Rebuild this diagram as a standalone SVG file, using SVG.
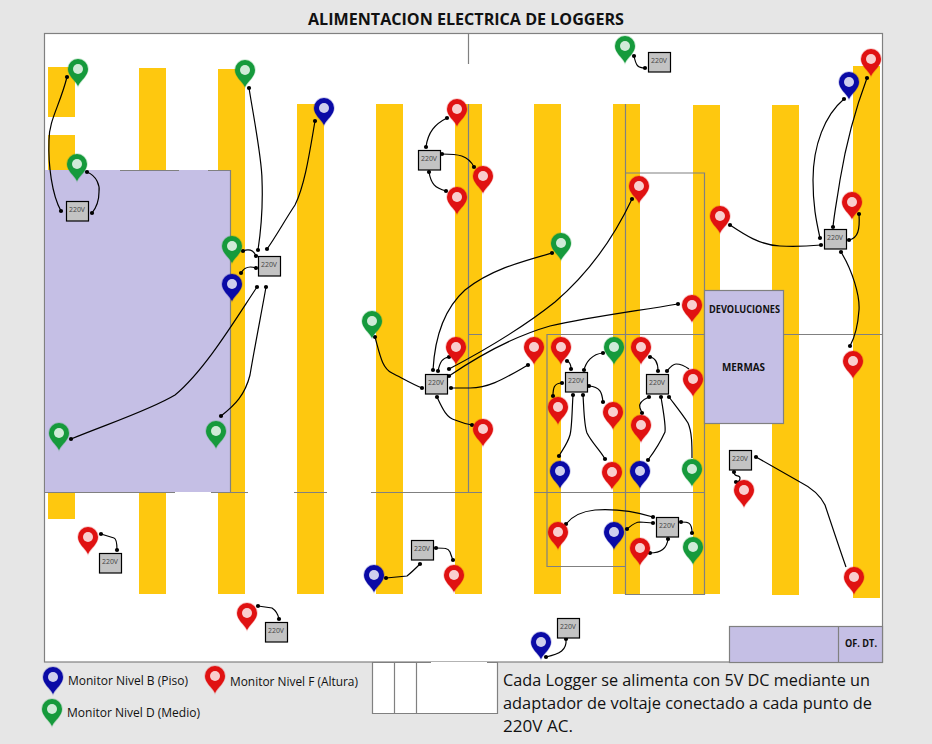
<svg xmlns="http://www.w3.org/2000/svg" width="932" height="744" viewBox="0 0 932 744">
<style>
.bar{fill:#fec80f}
.ln{stroke:#808080;stroke-width:1.2;fill:none}
.pur{fill:#c5bfe5}
.pb{fill:#c5bfe5;stroke:#808080;stroke-width:1.2}
.box rect{fill:#c3c3c3;stroke:#000;stroke-width:1.2}
.box text{font:8px "Open Sans",sans-serif;fill:#444;text-anchor:middle}
.c path{fill:none;stroke:#000;stroke-width:1.2;marker-start:url(#dot);marker-end:url(#dot)}
.c path.n{marker-end:none}
.t{font-family:"Open Sans","Liberation Sans",sans-serif;fill:#111}
.b{font-family:"Open Sans","Liberation Sans",sans-serif;font-weight:bold;fill:#111}
.red{color:#e01212}.grn{color:#169a3c}.blu{color:#0a0aa6}
</style>
<defs>
<marker id="dot" markerUnits="userSpaceOnUse" markerWidth="6" markerHeight="6" refX="3" refY="3" overflow="visible"><circle cx="3" cy="3" r="2.1" fill="#000"/></marker>
<g id="pin"><path d="M0,17C-3,11-10,7-10,0A10,10 0 1 1 10,0C10,7 3,11 0,17Z" fill="currentColor" stroke="currentColor" stroke-opacity=".25" stroke-width="1.5"/><circle r="5" fill="#fff" fill-opacity=".8"/></g>
</defs>
<rect width="932" height="744" fill="#e6e6e6"/>
<rect x="44.500" y="33.500" width="838" height="628.500" fill="#fff" stroke="#808080" stroke-width="1.2"/>
<g id="bars">
<rect class="bar" x="48" y="67" width="27" height="50"/>
<rect class="bar" x="48" y="135" width="27" height="384"/>
<rect class="bar" x="139" y="68" width="27" height="526"/>
<rect class="bar" x="218" y="69" width="27" height="525"/>
<rect class="bar" x="297" y="104" width="27" height="490"/>
<rect class="bar" x="376" y="104" width="27" height="490"/>
<rect class="bar" x="455" y="104" width="27" height="490"/>
<rect class="bar" x="534" y="104" width="27" height="490"/>
<rect class="bar" x="613" y="104" width="27" height="490"/>
<rect class="bar" x="693" y="105" width="27" height="489"/>
<rect class="bar" x="772" y="105" width="27" height="490"/>
<rect class="bar" x="853" y="66" width="27" height="532"/>
</g>
<g id="zones">
<rect class="pur" x="45" y="170" width="186" height="322"/>
<path class="ln" d="M120,170.500H179M208,170.500H230.500V492M44,492.500H175M211,492.500H248M294,492.500H327M371,492.500H482M534,492.500H704M468.500,34V64M468.500,104V492M468,334.500H482M547,334.500H704M783,334.500H882M547,334V566.500H625M625.500,104V594.500H704.500V173H626"/>
<rect class="pb" x="704.500" y="290.500" width="79" height="133"/>
<rect class="pb" x="729.500" y="626.500" width="153" height="36"/>
<path class="ln" d="M838.500,626V662"/>
<rect x="372.500" y="662" width="125" height="51.500" fill="#fff"/>
<path class="ln" d="M431,662.500H372.500V713.500H497.500V662.500H487M394.500,662V713M416.500,662V713"/>
<text class="b" x="744.500" y="313" font-size="10" text-anchor="middle" textLength="71" lengthAdjust="spacingAndGlyphs">DEVOLUCIONES</text>
<text class="b" x="743.500" y="371" font-size="10" text-anchor="middle" textLength="43" lengthAdjust="spacingAndGlyphs">MERMAS</text>
<text class="b" x="861" y="647" font-size="10.500" text-anchor="middle" textLength="32" lengthAdjust="spacingAndGlyphs">OF. DT.</text>
</g>
<g id="connectors" class="c">
<path d="M67,77C60,105 49,120 49,140C48,165 52,195 61,211"/>
<path d="M87,172C97,176 100,186 99,192C99,200 96,208 92,213"/>
<path d="M249,88C255,125 262,160 262,180C263,205 261,230 258,250"/>
<path d="M315,121C310,150 305,185 295,205C285,220 275,238 267,249"/>
<path d="M243,251C248,249 253,249 256,256"/>
<path d="M241,273C245,266 250,266 256,268"/>
<path d="M71,439C110,423 150,410 175,395C205,370 235,320 257,287"/>
<path d="M221,416C235,405 245,395 250,375C255,345 262,310 266,287"/>
<path d="M634,56C636,66 638,68 645,68"/>
<path d="M447,118C435,124 428,132 426,147"/>
<path d="M442,154C458,154 468,155 474,167"/>
<path d="M429,172C431,184 435,188 446,191"/>
<path d="M375,337C380,355 382,368 392,373C402,378 412,384 422,388"/>
<path d="M552,253C520,262 490,270 465,290C445,308 435,335 433,370"/>
<path d="M449,357C442,358 440,362 438,371"/>
<path d="M632,199C615,235 590,272 555,302C520,330 485,350 449,369"/>
<path d="M678,304C630,312 590,317 550,326C515,336 480,355 449,376"/>
<path d="M528,365C505,378 490,388 470,388L451,388"/>
<path d="M437,397C443,410 447,418 455,420C460,422 466,424 472,425"/>
<path d="M567,361C570,362 571,365 571,369"/>
<path d="M603,353C592,354 586,362 584,370"/>
<path d="M562,383C554,383 553,388 553,396"/>
<path d="M589,386C600,387 602,392 603,402"/>
<path d="M573,395C572,410 572,428 570,435C567,445 562,450 559,456"/>
<path d="M583,395C584,410 584,425 587,433C592,443 600,450 605,459"/>
<path d="M650,357C656,358 658,363 658,371"/>
<path class="n" d="M667,371C671,366 673,364 676,364C681,364 685,366 689,369"/>
<path d="M649,397C642,400 638,403 640,408L642,413"/>
<path d="M661,397C663,410 666,425 665,432C660,443 654,452 648,460"/>
<path class="n" d="M669,397C675,405 683,415 688,423C692,432 692,445 692,458"/>
<path d="M653,517C630,510 610,509 595,510C585,511 573,515 566,524"/>
<path d="M653,523L640,522C635,522 632,525 627,529"/>
<path d="M668,539C667,548 662,553 650,553"/>
<path d="M681,522C688,522 692,522 692,533"/>
<path d="M436,548C445,548 448,548 450,552C451,555 452,558 453,560"/>
<path d="M386,578L407,576C412,572 416,568 420,564"/>
<path d="M566,639C567,650 560,654 546,657"/>
<path d="M844,99C825,115 813,145 813,180C813,205 816,220 820,238"/>
<path d="M867,78C855,110 845,150 840,180C837,200 834,215 833,227"/>
<path d="M859,214C860,230 858,238 849,240"/>
<path d="M730,225C745,235 760,245 780,246C795,247 810,246 821,245"/>
<path d="M841,252C852,270 860,295 859,310C858,325 856,335 850,346"/>
<path d="M734,472C734,478 740,474 740,478C740,481 738,482 736,482"/>
<path class="n" d="M756,457L800,482C812,488 820,495 825,505C830,520 840,550 846,567"/>
<path d="M101,534L114,538C117,539 117,545 117,550"/>
<path d="M258,606L272,608C275,610 278,614 279,619"/>
</g>
<g id="outlets">
<g id="o1" class="box" transform="translate(66,201)"><rect x=".5" y=".5" width="22" height="19.500"/><text x="11" y="10.500" textLength="16" lengthAdjust="spacingAndGlyphs">220V</text></g>
<g id="o2" class="box" transform="translate(258,256)"><rect x=".5" y=".5" width="22" height="19.500"/><text x="11" y="10.500" textLength="16" lengthAdjust="spacingAndGlyphs">220V</text></g>
<g id="o3" class="box" transform="translate(648,52)"><rect x=".5" y=".5" width="22" height="19.500"/><text x="11" y="10.500" textLength="16" lengthAdjust="spacingAndGlyphs">220V</text></g>
<g id="o4" class="box" transform="translate(418,150)"><rect x=".5" y=".5" width="22" height="19.500"/><text x="11" y="10.500" textLength="16" lengthAdjust="spacingAndGlyphs">220V</text></g>
<g id="o5" class="box" transform="translate(425,374)"><rect x=".5" y=".5" width="22" height="19.500"/><text x="11" y="10.500" textLength="16" lengthAdjust="spacingAndGlyphs">220V</text></g>
<g id="o6" class="box" transform="translate(565,372)"><rect x=".5" y=".5" width="22" height="19.500"/><text x="11" y="10.500" textLength="16" lengthAdjust="spacingAndGlyphs">220V</text></g>
<g id="o7" class="box" transform="translate(646,374)"><rect x=".5" y=".5" width="22" height="19.500"/><text x="11" y="10.500" textLength="16" lengthAdjust="spacingAndGlyphs">220V</text></g>
<g id="o8" class="box" transform="translate(656,517)"><rect x=".5" y=".5" width="22" height="19.500"/><text x="11" y="10.500" textLength="16" lengthAdjust="spacingAndGlyphs">220V</text></g>
<g id="o9" class="box" transform="translate(411,540)"><rect x=".5" y=".5" width="22" height="19.500"/><text x="11" y="10.500" textLength="16" lengthAdjust="spacingAndGlyphs">220V</text></g>
<g id="o10" class="box" transform="translate(824,229)"><rect x=".5" y=".5" width="22" height="19.500"/><text x="11" y="10.500" textLength="16" lengthAdjust="spacingAndGlyphs">220V</text></g>
<g id="o11" class="box" transform="translate(729,450)"><rect x=".5" y=".5" width="22" height="19.500"/><text x="11" y="10.500" textLength="16" lengthAdjust="spacingAndGlyphs">220V</text></g>
<g id="o12" class="box" transform="translate(99,553)"><rect x=".5" y=".5" width="22" height="19.500"/><text x="11" y="10.500" textLength="16" lengthAdjust="spacingAndGlyphs">220V</text></g>
<g id="o13" class="box" transform="translate(265,622)"><rect x=".5" y=".5" width="22" height="19.500"/><text x="11" y="10.500" textLength="16" lengthAdjust="spacingAndGlyphs">220V</text></g>
<g id="o14" class="box" transform="translate(557,618)"><rect x=".5" y=".5" width="22" height="19.500"/><text x="11" y="10.500" textLength="16" lengthAdjust="spacingAndGlyphs">220V</text></g>
</g>
<g id="monitors">
<use id="g1" class="grn" href="#pin" x="78" y="69"/>
<use id="g2" class="grn" href="#pin" x="245" y="70"/>
<use id="g3" class="grn" href="#pin" x="77" y="164"/>
<use id="g4" class="grn" href="#pin" x="232" y="246"/>
<use id="g5" class="grn" href="#pin" x="625" y="46"/>
<use id="g6" class="grn" href="#pin" x="561" y="243"/>
<use id="g7" class="grn" href="#pin" x="372" y="321"/>
<use id="g8" class="grn" href="#pin" x="614" y="347"/>
<use id="g9" class="grn" href="#pin" x="692" y="469"/>
<use id="g10" class="grn" href="#pin" x="693" y="547"/>
<use id="g11" class="grn" href="#pin" x="59" y="433"/>
<use id="g12" class="grn" href="#pin" x="216" y="431"/>
<use id="b1" class="blu" href="#pin" x="232" y="284"/>
<use id="b2" class="blu" href="#pin" x="324" y="108"/>
<use id="b3" class="blu" href="#pin" x="849" y="82"/>
<use id="b4" class="blu" href="#pin" x="560" y="471"/>
<use id="b5" class="blu" href="#pin" x="640" y="471"/>
<use id="b6" class="blu" href="#pin" x="614" y="532"/>
<use id="b7" class="blu" href="#pin" x="374" y="575"/>
<use id="b8" class="blu" href="#pin" x="541" y="642"/>
<use id="r1" class="red" href="#pin" x="457" y="109"/>
<use id="r2" class="red" href="#pin" x="483" y="176"/>
<use id="r3" class="red" href="#pin" x="457" y="197"/>
<use id="r4" class="red" href="#pin" x="639" y="186"/>
<use id="r5" class="red" href="#pin" x="720" y="216"/>
<use id="r6" class="red" href="#pin" x="871" y="59"/>
<use id="r7" class="red" href="#pin" x="852" y="202"/>
<use id="r8" class="red" href="#pin" x="692" y="305"/>
<use id="r9" class="red" href="#pin" x="456" y="347"/>
<use id="r10" class="red" href="#pin" x="534" y="347"/>
<use id="r11" class="red" href="#pin" x="561" y="347"/>
<use id="r12" class="red" href="#pin" x="641" y="347"/>
<use id="r13" class="red" href="#pin" x="693" y="379"/>
<use id="r14" class="red" href="#pin" x="558" y="407"/>
<use id="r15" class="red" href="#pin" x="613" y="412"/>
<use id="r16" class="red" href="#pin" x="641" y="425"/>
<use id="r17" class="red" href="#pin" x="483" y="429"/>
<use id="r18" class="red" href="#pin" x="612" y="472"/>
<use id="r19" class="red" href="#pin" x="558" y="532"/>
<use id="r20" class="red" href="#pin" x="640" y="548"/>
<use id="r21" class="red" href="#pin" x="454" y="575"/>
<use id="r22" class="red" href="#pin" x="853" y="361"/>
<use id="r23" class="red" href="#pin" x="744" y="490"/>
<use id="r24" class="red" href="#pin" x="854" y="577"/>
<use id="r25" class="red" href="#pin" x="88" y="537"/>
<use id="r26" class="red" href="#pin" x="247" y="613"/>
</g>
<g id="legend">
<use class="blu" href="#pin" x="53" y="677"/>
<use class="red" href="#pin" x="215" y="676"/>
<use class="grn" href="#pin" x="52" y="709"/>
<text class="t" x="68" y="685" font-size="12.500" textLength="120" lengthAdjust="spacingAndGlyphs">Monitor Nivel B (Piso)</text>
<text class="t" x="230" y="686" font-size="12.500" textLength="128" lengthAdjust="spacingAndGlyphs">Monitor Nivel F (Altura)</text>
<text class="t" x="67" y="717" font-size="12.500" textLength="133" lengthAdjust="spacingAndGlyphs">Monitor Nivel D (Medio)</text>
</g>
<text class="b" x="466" y="25" font-size="15.500" text-anchor="middle" textLength="316" lengthAdjust="spacingAndGlyphs">ALIMENTACION ELECTRICA DE LOGGERS</text>
<g class="t" font-size="16.500">
<text x="503" y="686" textLength="367" lengthAdjust="spacingAndGlyphs">Cada Logger se alimenta con 5V DC mediante un</text>
<text x="503" y="709" textLength="369" lengthAdjust="spacingAndGlyphs">adaptador de voltaje conectado a cada punto de</text>
<text x="503" y="732" textLength="70" lengthAdjust="spacingAndGlyphs">220V AC.</text>
</g>
</svg>
